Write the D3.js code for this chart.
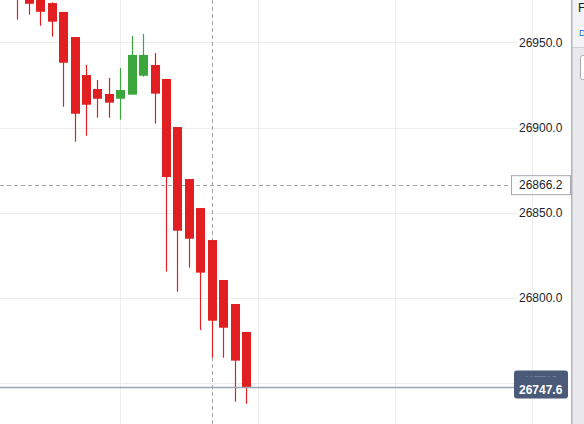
<!DOCTYPE html>
<html><head><meta charset="utf-8">
<script src="https://cdn.jsdelivr.net/npm/d3@7/dist/d3.min.js"></script>
<style>html,body{margin:0;padding:0;background:#fff;overflow:hidden}svg{display:block}</style>
</head><body>
<script>
const bars   = d3.range(21);
const opens  = [26986,26978,26976,26973.0,26967.8,26953.1,26930.8,26922.6,26919.7,26916.9,26919.3,26930.4,26936.7,26928.5,26900.3,26869.8,26852.8,26834.0,26810.6,26796.5,26780.1];
const highs  = [26992,26980,26978,26973.4,26967.8,26953.1,26936.7,26927.9,26929.1,26934.9,26953.7,26954.9,26943.7,26928.5,26900.3,26869.8,26852.8,26834.0,26810.6,26796.5,26780.1];
const lows   = [26963.3,26966.2,26959.7,26953.3,26912.2,26891.7,26895.2,26905.8,26905.8,26904.6,26919.3,26929.8,26902.3,26815.5,26803.7,26817.8,26781.3,26765.0,26765.0,26739.2,26738.0];
const closes = [26977,26972.6,26967.9,26962.1,26938.0,26908.1,26913.4,26916.9,26914.6,26922.0,26942.6,26942.6,26919.9,26871.0,26839.5,26834.8,26814.9,26786.7,26782.6,26763.3,26747.6];
const priceTicks = [26750, 26800, 26850, 26900, 26950];
const timeGridIdx = [-3, 9, 21, 33, 45];
const crossIdx = 17;
const crossPrice = 26866.2;
const lastPrice = 26747.6;

const W = 584, H = 424, panelX = 571;
const svg = d3.select("body").append("svg").attr("width", W).attr("height", H);
const x = d3.scaleLinear().domain([9, 21]).range([120.3, 257.5]);
const y = d3.scaleLinear().domain([26750, 26950]).range([383.3, 42.3]);
const font = "'Liberation Sans', Arial, sans-serif";
const red = "#e11f21", green = "#3ba63c";

// grid
svg.append("g").selectAll("line").data(timeGridIdx).join("line")
  .attr("x1", d => Math.round(x(d)) + 0.5).attr("x2", d => Math.round(x(d)) + 0.5)
  .attr("y1", 0).attr("y2", H).attr("stroke", "#ededed").attr("stroke-width", 1);
svg.append("g").selectAll("line").data(priceTicks).join("line")
  .attr("x1", 0).attr("x2", 517)
  .attr("y1", d => Math.round(y(d)) + 0.5).attr("y2", d => Math.round(y(d)) + 0.5)
  .attr("stroke", "#ededed").attr("stroke-width", 1);

// crosshair (behind candles)
svg.append("line").attr("x1", Math.round(x(crossIdx)) + 0.5).attr("x2", Math.round(x(crossIdx)) + 0.5)
  .attr("y1", 0).attr("y2", H).attr("stroke", "#a3a3a3").attr("stroke-dasharray", "4,3");
svg.append("line").attr("x1", 0).attr("x2", 511)
  .attr("y1", Math.round(y(crossPrice)) + 0.5).attr("y2", Math.round(y(crossPrice)) + 0.5)
  .attr("stroke", "#a3a3a3").attr("stroke-dasharray", "4,3");

// candles
const c = svg.append("g");
c.selectAll("line").data(bars).join("line")
  .attr("x1", i => Math.round(x(i)) + 0.5).attr("x2", i => Math.round(x(i)) + 0.5)
  .attr("y1", i => y(highs[i])).attr("y2", i => y(lows[i]))
  .attr("stroke", i => closes[i] >= opens[i] ? green : red).attr("stroke-width", 1.2);
c.selectAll("rect").data(bars).join("rect")
  .attr("x", i => Math.round(x(i)) - 4).attr("width", 9)
  .attr("y", i => y(Math.max(opens[i], closes[i])))
  .attr("height", i => Math.max(1, Math.abs(y(opens[i]) - y(closes[i]))))
  .attr("fill", i => closes[i] >= opens[i] ? green : red);

// last price line
svg.append("line").attr("x1", 0).attr("x2", 514)
  .attr("y1", y(lastPrice)).attr("y2", y(lastPrice))
  .attr("stroke", "#9aa5b8").attr("stroke-width", 1.5);

// price axis labels
svg.append("g").selectAll("text").data(priceTicks.filter(d => d !== 26750)).join("text")
  .attr("x", 519).attr("y", d => y(d)).attr("dy", "0.36em")
  .attr("font-family", font).attr("font-size", 12).attr("fill", "#1b1f2e")
  .text(d => d3.format(".1f")(d));

// crosshair label
svg.append("rect").attr("x", 511.5).attr("y", y(crossPrice) - 9.5).attr("width", 59).attr("height", 19)
  .attr("fill", "#fff").attr("stroke", "#a4a6b0");
svg.append("text").attr("x", 519).attr("y", y(crossPrice)).attr("dy", "0.36em")
  .attr("font-family", font).attr("font-size", 12).attr("fill", "#1b1f2e")
  .text(d3.format(".1f")(crossPrice));

// last price label
svg.append("rect").attr("x", 514).attr("y", y(lastPrice) - 17).attr("width", 54).attr("height", 28)
  .attr("rx", 3).attr("fill", "#4a5a78");
svg.append("text").attr("x", 541).attr("y", y(lastPrice) - 9.5).attr("text-anchor", "middle")
  .attr("font-family", font).attr("font-size", 7).attr("fill", "#8d9ab3")
  .text("- - ––– -  –");
svg.append("text").attr("x", 519).attr("y", y(lastPrice) + 2).attr("dy", "0.36em")
  .attr("font-family", font).attr("font-size", 12).attr("font-weight", "bold").attr("fill", "#ffffff")
  .text(d3.format(".1f")(lastPrice));

// right side panel
svg.append("rect").attr("x", panelX).attr("y", 0).attr("width", W - panelX).attr("height", H).attr("fill", "#e9e9ec");
svg.append("rect").attr("x", panelX).attr("y", 0).attr("width", W - panelX).attr("height", 47).attr("fill", "#f4f4f6");
svg.append("line").attr("x1", panelX).attr("x2", W).attr("y1", 47.5).attr("y2", 47.5).attr("stroke", "#cfcfd4");
svg.append("line").attr("x1", panelX + 0.75).attr("x2", panelX + 0.75).attr("y1", 0).attr("y2", H)
  .attr("stroke", "#b3b5bd").attr("stroke-width", 1.5);
svg.append("text").attr("x", 578).attr("y", 12).attr("font-family", font).attr("font-size", 12).attr("fill", "#222").text("F");
svg.append("text").attr("x", 579).attr("y", 36).attr("font-family", font).attr("font-size", 9).attr("fill", "#2a6fdb").text("D");
svg.append("rect").attr("x", 580.5).attr("y", 55.5).attr("width", 12).attr("height", 24).attr("rx", 2)
  .attr("fill", "#fff").attr("stroke", "#a9abb3");
</script>
</body></html>
